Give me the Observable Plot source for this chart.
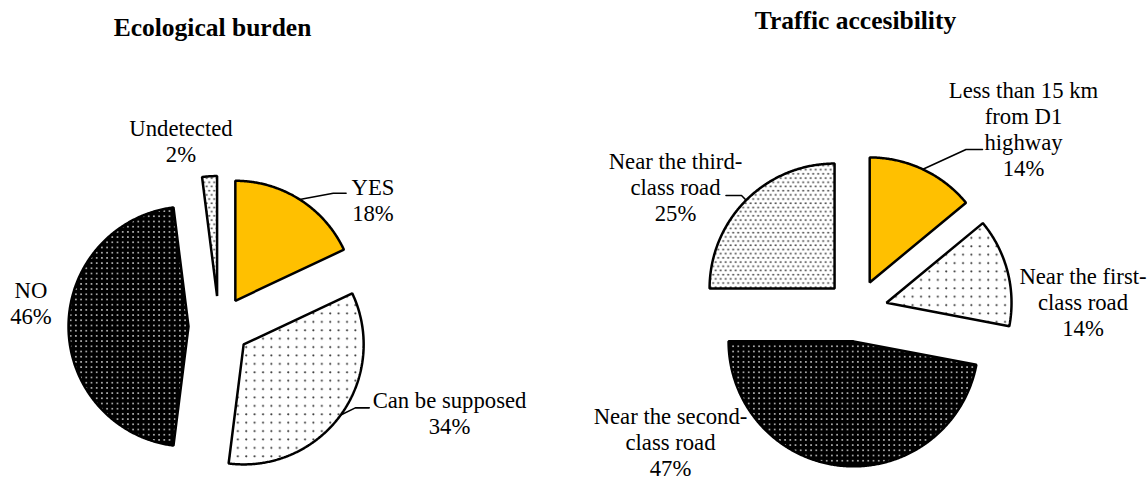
<!DOCTYPE html>
<html>
<head>
<meta charset="utf-8">
<script src="https://cdn.jsdelivr.net/npm/d3@7"></script>
<script src="https://cdn.jsdelivr.net/npm/@observablehq/plot@0.6"></script>
<style>
  html, body { margin: 0; padding: 0; background: #fff; }
  #wrap { display: flex; width: 1148px; height: 484px; overflow: hidden; }
  #wrap > svg { flex: none; }
</style>
</head>
<body>
<div id="wrap"></div>
<script>
// ---------- data ----------
const ecoTitle = "Ecological burden";
const ecoCategories = ["YES", "Can be supposed", "NO", "Undetected"];
const ecoValues = [18, 34, 46, 2];
const ecoLabelLines = [["YES"], ["Can be supposed"], ["NO"], ["Undetected"]];

const trafficTitle = "Traffic accesibility";
const trafficCategories = ["Less than 15 km from D1 highway", "Near the first-class road", "Near the second-class road", "Near the third-class road"];
const trafficValues = [14, 14, 47, 25];
const trafficLabelLines = [["Less than 15 km", "from D1", "highway"], ["Near the first-", "class road"], ["Near the second-", "class road"], ["Near the third-", "class road"]];

// ---------- styles ----------
const sliceFills = ["yellow", "sparse", "dark", "dense"]; // per slice order (both charts)
const labelFont = "'Liberation Serif', 'Times New Roman', serif";

// ---------- layout (pie radius = 1 unit, y up, centre at 0,0) ----------
const ecoLayout = {
  width: 574, height: 484,
  x: [-218.5 / 120, (574 - 218.5) / 120],
  y: [-(484 - 326) / 120, 326 / 120],
  explode: 0.254,
  title: [-0.054, 2.493],
  labels: [[1.283, 1.053], [1.921, -0.722], [-1.567, 0.2], [-0.317, 1.545]],
  leaders: {0: [[0.952, 1.111], [1.059, 1.111]], 1: [[1.136, -0.678], [1.252, -0.678]]}
};
const trafficLayout = {
  width: 574, height: 484,
  x: [-282 / 125, (574 - 282) / 125],
  y: [-(484 - 310) / 125, 310 / 125],
  explode: 0.248,
  title: [-0.008, 2.319],
  labels: [[1.336, 1.454], [1.812, 0.067], [-1.488, -1.05], [-1.448, 0.987]],
  leaders: {0: [[0.876, 1.288], [1.008, 1.288]], 3: [[-0.92, 0.92], [-1.044, 0.92]]}
};

function patternDefs(prefix) {
  return `
  <pattern id="${prefix}-sparse" width="8.4" height="8.4" patternUnits="userSpaceOnUse">
    <rect width="8.4" height="8.4" fill="#fff"/>
    <circle cx="2.1" cy="2.1" r="1.05" fill="#333"/>
  </pattern>
  <pattern id="${prefix}-dense" width="5" height="8.4" patternUnits="userSpaceOnUse">
    <rect width="5" height="8.4" fill="#fff"/>
    <circle cx="1.2" cy="1.2" r="0.95" fill="#333"/>
    <circle cx="3.7" cy="5.4" r="0.95" fill="#333"/>
  </pattern>
  <pattern id="${prefix}-dark" width="5.2" height="5.2" patternUnits="userSpaceOnUse">
    <rect width="5.2" height="5.2" fill="#000"/>
    <circle cx="2.6" cy="2.6" r="0.95" fill="#ccc"/>
  </pattern>`;
}

function fillFor(key, prefix) {
  return key === "yellow" ? "#FFC000" : `url(#${prefix}-${key})`;
}

function slices(values, explode) {
  const total = d3.sum(values);
  let acc = 0;
  return values.map((v, i) => {
    const a0 = acc / total * 2 * Math.PI;
    acc += v;
    const a1 = acc / total * 2 * Math.PI;
    const mid = (a0 + a1) / 2;
    const ox = explode * Math.sin(mid), oy = explode * Math.cos(mid);
    const pts = [{x: ox, y: oy}];
    const n = Math.max(4, Math.ceil((a1 - a0) / (Math.PI / 360)));
    for (let k = 0; k <= n; k++) {
      const a = a0 + (a1 - a0) * k / n;
      pts.push({x: ox + Math.sin(a), y: oy + Math.cos(a)});
    }
    return {i, mid, ox, oy, pts, value: v};
  });
}

function pieChart(prefix, title, values, labelLines, layout) {
  const sl = slices(values, layout.explode);
  const marks = [];
  sl.forEach((s, i) => {
    marks.push(Plot.line(s.pts, {
      x: "x", y: "y", curve: "linear-closed",
      fill: fillFor(sliceFills[i], prefix),
      stroke: "#000", strokeWidth: 2.5, strokeLinejoin: "miter"
    }));
  });
  // leader lines
  Object.entries(layout.leaders).forEach(([k, pts]) => {
    const s = sl[+k];
    const arc = {x: s.ox + Math.sin(s.mid), y: s.oy + Math.cos(s.mid)};
    const line = [arc, ...pts.map(([x, y]) => ({x, y}))];
    marks.push(Plot.line(line, {x: "x", y: "y", stroke: "#000", strokeWidth: 1.6}));
  });
  // labels
  const labelData = sl.map((s, i) => ({
    x: layout.labels[i][0], y: layout.labels[i][1],
    text: [...labelLines[i], `${values[i]}%`].join("\n")
  }));
  marks.push(Plot.text(labelData, {
    x: "x", y: "y", text: "text",
    fontSize: 22.7, fontFamily: labelFont, lineHeight: 1.145,
    textAnchor: "middle", lineAnchor: "middle", fill: "#000"
  }));
  marks.push(Plot.text([title], {
    x: () => layout.title[0], y: () => layout.title[1], text: d => d,
    fontSize: 25.5, fontWeight: "bold", fontFamily: labelFont,
    textAnchor: "middle", lineAnchor: "middle", fill: "#000"
  }));
  const svg = Plot.plot({
    width: layout.width, height: layout.height,
    margin: 0,
    x: {domain: layout.x, axis: null},
    y: {domain: layout.y, axis: null},
    style: {background: "#fff", overflow: "visible"},
    marks
  });
  d3.select(svg).insert("defs", ":first-child").html(patternDefs(prefix));
  return svg;
}

const wrap = document.getElementById("wrap");
wrap.appendChild(pieChart("eco", ecoTitle, ecoValues, ecoLabelLines, ecoLayout));
wrap.appendChild(pieChart("trf", trafficTitle, trafficValues, trafficLabelLines, trafficLayout));
</script>
</body>
</html>
